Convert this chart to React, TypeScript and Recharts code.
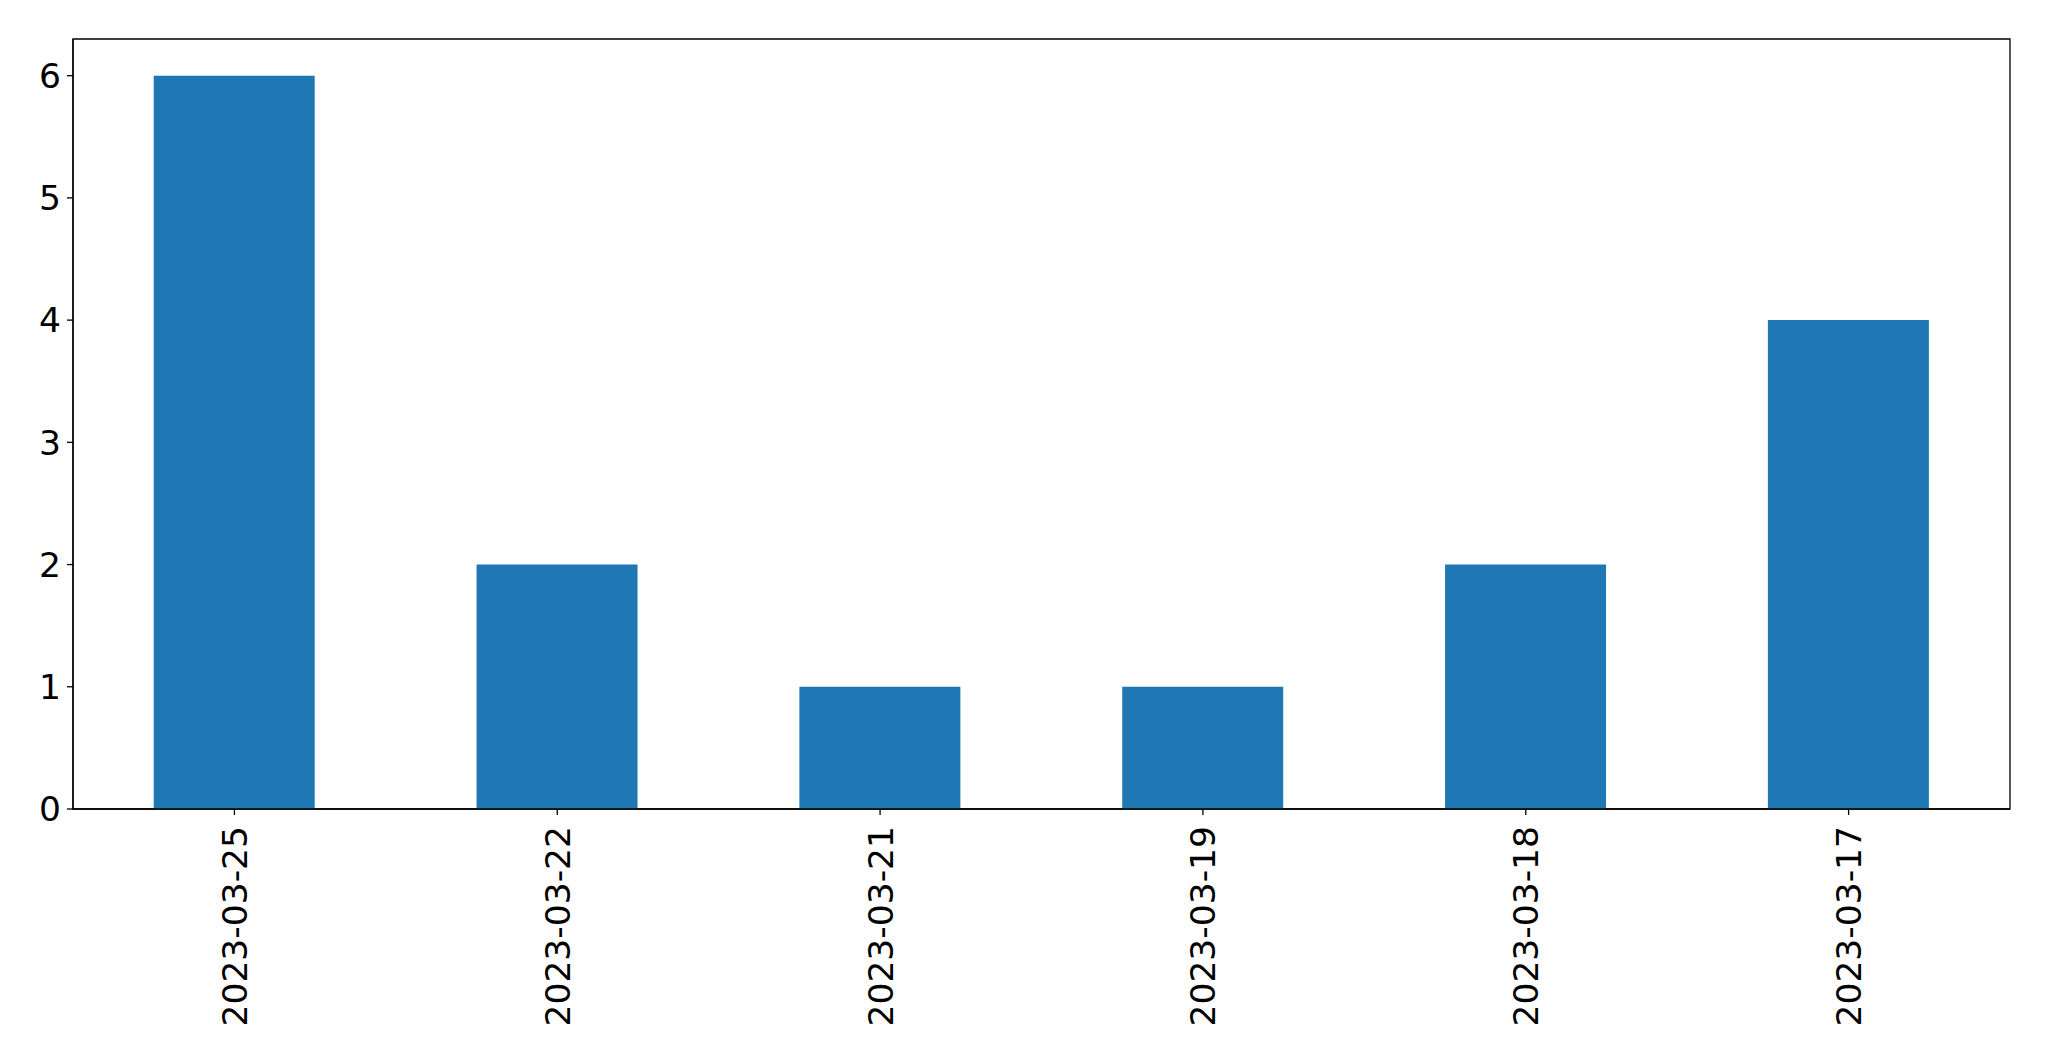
import React from 'react';
import { BarChart, Bar, XAxis, YAxis, ReferenceArea } from 'recharts';

const dates = ['2023-03-25', '2023-03-22', '2023-03-21', '2023-03-19', '2023-03-18', '2023-03-17'];
const counts = [6, 2, 1, 1, 2, 4];
const yTicks = [0, 1, 2, 3, 4, 5, 6];

const data = dates.map((d, i) => ({ date: d, count: counts[i] }));

const FONT = 'DejaVu Sans, sans-serif';

const DateTick = (props: any) => {
  const { x, y, payload } = props;
  return (
    <g transform={`translate(${x},${y})`}>
      <text
        x={-11}
        y={0}
        dy="0.36em"
        transform="rotate(-90)"
        textAnchor="end"
        fill="#000"
        fontSize={34.5}
        fontFamily={FONT}
      >
        {payload.value}
      </text>
    </g>
  );
};

export default function App() {
  return (
    <div style={{ position: 'absolute', left: 0, top: 0, width: 2049, height: 1061, background: '#fff' }}>
      <BarChart
        width={2049}
        height={1061}
        data={data}
        margin={{ top: 39, right: 39, bottom: 12, left: 13 }}
        barCategoryGap="25%"
      >
        <XAxis
          dataKey="date"
          height={240}
          interval={0}
          tick={<DateTick />}
          tickSize={6}
          tickMargin={0}
          axisLine={{ stroke: '#000', strokeWidth: 1.3 }}
          tickLine={{ stroke: '#000', strokeWidth: 1.3 }}
        />
        <YAxis
          width={60}
          domain={[0, 6.3]}
          ticks={yTicks}
          tickSize={6}
          tickMargin={6}
          tick={{ fill: '#000', fontSize: 34.5, fontFamily: FONT }}
          axisLine={{ stroke: '#000', strokeWidth: 1.3 }}
          tickLine={{ stroke: '#000', strokeWidth: 1.3 }}
        />
        <Bar dataKey="count" fill="#1f77b4" isAnimationActive={false} />
        <ReferenceArea y1={0} y2={6.3} fill="none" stroke="#000" strokeWidth={1.3} fillOpacity={0} />
      </BarChart>
    </div>
  );
}
